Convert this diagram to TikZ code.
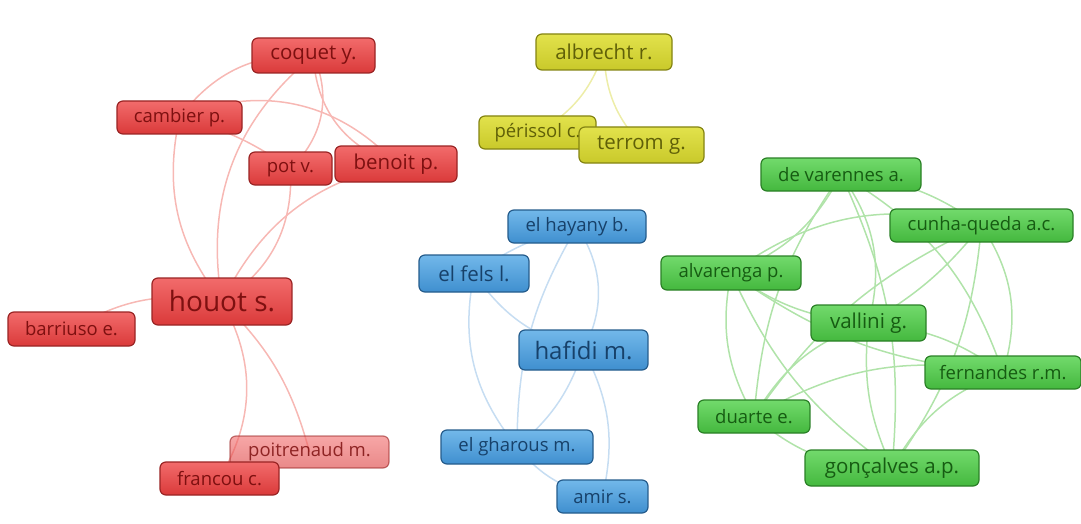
\documentclass[tikz,border=0pt]{standalone}
\usepackage{fontspec}
\setmainfont{Open Sans}
\usetikzlibrary{backgrounds}
\definecolor{rTop}{HTML}{F26B6B}\definecolor{rBot}{HTML}{DA3A3A}\definecolor{rBd}{HTML}{9A2424}\definecolor{rTx}{HTML}{7E1010}\definecolor{rEd}{HTML}{F7B8B4}
\definecolor{yTop}{HTML}{E2E24C}\definecolor{yBot}{HTML}{C9C92A}\definecolor{yBd}{HTML}{848412}\definecolor{yTx}{HTML}{606008}\definecolor{yEd}{HTML}{EDEDA8}
\definecolor{bTop}{HTML}{72B8EA}\definecolor{bBot}{HTML}{3F8FCF}\definecolor{bBd}{HTML}{255C8C}\definecolor{bTx}{HTML}{17416A}\definecolor{bEd}{HTML}{C6DDF2}
\definecolor{gTop}{HTML}{72DA6C}\definecolor{gBot}{HTML}{44B83E}\definecolor{gBd}{HTML}{2A8026}\definecolor{gTx}{HTML}{165C12}\definecolor{gEd}{HTML}{B0E3A9}
\tikzset{
  wh/.style 2 args={minimum width=#1pt, minimum height=#2pt},
  bx/.style={rounded corners=6pt, inner sep=0pt, line width=1.2pt},
  rnode/.style={bx, draw=rBd, top color=rTop, bottom color=rBot, text=rTx},
  ynode/.style={bx, draw=yBd, top color=yTop, bottom color=yBot, text=yTx},
  bnode/.style={bx, draw=bBd, top color=bTop, bottom color=bBot, text=bTx},
  gnode/.style={bx, draw=gBd, top color=gTop, bottom color=gBot, text=gTx},
  fA/.style={font=\fontsize{18.5}{22}\selectfont},
  fB/.style={font=\fontsize{20.5}{24}\selectfont},
  fC/.style={font=\fontsize{24}{28}\selectfont},
  fD/.style={font=\fontsize{28}{32}\selectfont},
  redge/.style={draw=rEd, line width=1.5pt},
  yedge/.style={draw=yEd, line width=1.5pt},
  bedge/.style={draw=bEd, line width=1.5pt},
  gedge/.style={draw=gEd, line width=1.5pt},
}
\begin{document}
\begin{tikzpicture}[x=1pt,y=-1pt]
\useasboundingbox (0,0) rectangle (1081,524);
% red nodes
\node[rnode, fB, wh={123}{35}] (cq) at (313.5,55.5) {coquet y.};
\node[rnode, fA, wh={125}{33}] (cb) at (179.5,117.5) {cambier p.};
\node[rnode, fA, wh={83}{33}] (pt) at (290.5,168.5) {pot v.};
\node[rnode, fB, wh={122}{36}] (bn) at (396,164) {benoit p.};
\node[rnode, fD, wh={140}{47}] (ho) at (222,301.5) {houot s.};
\node[rnode, fA, wh={127}{34}] (ba) at (71.5,329) {barriuso e.};
\node[rnode, fA, wh={159}{32}, fill opacity=0.6, draw opacity=0.6, text opacity=0.85] (po) at (309.5,452) {poitrenaud m.};
\node[rnode, fA, wh={119}{33}] (fr) at (219.5,478.5) {francou c.};
% yellow nodes
\node[ynode, fB, wh={136}{36}] (al) at (604,52) {albrecht r.};
\node[ynode, fA, wh={117}{33}] (pe) at (537.5,132.5) {périssol c.};
\node[ynode, fB, wh={125}{36}] (te) at (641.5,145) {terrom g.};
% blue nodes
\node[bnode, fA, wh={138}{33}] (eh) at (577,226.5) {el hayany b.};
\node[bnode, fB, wh={110}{37}] (ef) at (474,273.5) {el fels l.};
\node[bnode, fC, wh={129}{40}] (hf) at (583.5,350) {hafidi m.};
\node[bnode, fA, wh={152}{34}] (eg) at (517,447) {el gharous m.};
\node[bnode, fA, wh={91}{33}] (am) at (602.5,496.5) {amir s.};
% green nodes
\node[gnode, fA, wh={160}{33}] (dv) at (841,174.5) {de varennes a.};
\node[gnode, fA, wh={183}{33}] (cu) at (981.5,225.5) {cunha-queda a.c.};
\node[gnode, fA, wh={140}{34}] (av) at (731,273) {alvarenga p.};
\node[gnode, fB, wh={115}{36}] (va) at (868.5,323) {vallini g.};
\node[gnode, fA, wh={156}{33}] (fe) at (1003,372.5) {fernandes r.m.};
\node[gnode, fA, wh={112}{33}] (du) at (754,416.5) {duarte e.};
\node[gnode, fB, wh={174}{36}] (go) at (892,468) {gonçalves a.p.};
\begin{scope}[on background layer]
% red edges
\path[redge] (cq.center) to[bend right=28] (cb.center);
\path[redge] (cb.center) to[bend right=25] (ho.center);
\path[redge] (cq.center) to[bend right=30] (ho.center);
\path[redge] (cb.center) to[bend left=35] (bn.center);
\path[redge] (cb.center) to[bend left=10] (pt.center);
\path[redge] (cq.center) to[bend left=35] (pt.center);
\path[redge] (cq.center) to[bend right=35] (bn.center);
\path[redge] (pt.center) to[bend left=30] (ho.center);
\path[redge] (bn.center) to[bend right=25] (ho.center);
\path[redge] (ho.center) to[bend right=20] (ba.center);
\path[redge] (ho.center) to[bend left=30] (fr.center);
\path[redge] (ho.center) to[bend left=15] (po.center);
% yellow edges
\path[yedge] (al.center) to[bend left=20] (pe.center);
\path[yedge] (al.center) to[bend right=20] (te.center);
% blue edges
\path[bedge] (eh.center) to[bend right=10] (ef.center);
\path[bedge] (ef.center) to[bend right=25] (eg.center);
\path[bedge] (eh.center) to[bend right=15] (eg.center);
\path[bedge] (eh.center) to[bend left=30] (hf.center);
\path[bedge] (hf.center) to[bend left=20] (am.center);
\path[bedge] (ef.center) to[bend right=20] (hf.center);
\path[bedge] (hf.center) to[bend left=15] (eg.center);
\path[bedge] (eg.center) to[bend right=20] (am.center);
% green edges
\path[gedge] (dv.center) to[bend left=20] (av.center);
\path[gedge] (dv.center) to[bend left=25] (va.center);
\path[gedge] (dv.center) to[bend left=15] (cu.center);
\path[gedge] (dv.center) to[bend right=15] (du.center);
\path[gedge] (dv.center) to[bend left=15] (go.center);
\path[gedge] (dv.center) to[bend left=20] (fe.center);
\path[gedge] (av.center) to[bend left=25] (cu.center);
\path[gedge] (cu.center) to[bend left=10] (va.center);
\path[gedge] (cu.center) to[bend left=25] (fe.center);
\path[gedge] (cu.center) to[bend right=15] (du.center);
\path[gedge] (cu.center) to[bend left=15] (go.center);
\path[gedge] (av.center) to[bend right=15] (va.center);
\path[gedge] (av.center) to[bend right=20] (du.center);
\path[gedge] (av.center) to[bend right=15] (go.center);
\path[gedge] (av.center) to[bend right=15] (fe.center);
\path[gedge] (va.center) to[bend right=20] (du.center);
\path[gedge] (va.center) to[bend right=15] (go.center);
\path[gedge] (va.center) to[bend left=15] (fe.center);
\path[gedge] (du.center) to[bend right=20] (go.center);
\path[gedge] (du.center) to[bend left=20] (fe.center);
\path[gedge] (go.center) to[bend left=20] (fe.center);
\end{scope}
\end{tikzpicture}
\end{document}
